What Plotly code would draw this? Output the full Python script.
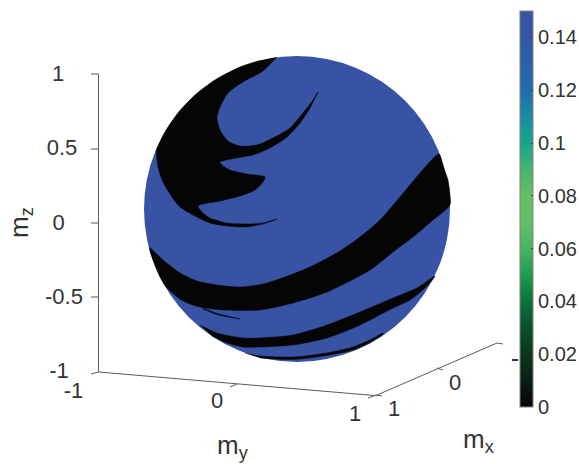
import plotly.graph_objects as go

# Projected picture coordinates of the box axes and the outlines on the sphere
sphere_box = [144, 56, 450, 362]

main_x = [277, 263, 243, 228, 220, 217, 220, 228, 240, 257, 273, 290, 303, 313, 318, 310, 300, 287, 270, 253,
          237, 220, 222, 230, 247, 265, 263, 255, 240, 220, 198, 202, 210, 227, 247, 263, 277, 263, 245, 227,
          210, 193, 180, 172, 163, 158, 156.5, 158, 165, 178, 195, 215, 240, 260]
main_y = [57, 71, 82, 93, 107, 118, 130, 141, 146, 145, 138, 128, 113, 100, 92, 108, 123, 137, 148, 155,
          158, 162, 165, 170, 174, 177, 182, 190, 196, 201, 206, 212, 218, 223, 224, 223, 219, 224, 227, 226,
          223, 215, 207, 197, 182, 167, 150, 146, 132, 113, 95, 80, 67, 60.5]

band1_x = [149.5, 163, 180, 197, 217, 240, 263, 285, 303, 320, 340, 360, 380, 400, 420, 439, 443, 448, 450, 450,
           433, 413, 393, 370, 327, 293, 260, 223, 200, 183, 167, 160, 153, 149.5]
band1_y = [247, 260, 273, 281, 285, 287, 284, 277, 270, 262, 251, 237, 220, 197, 173, 154, 166, 180, 195, 205,
           220, 237, 252, 270, 292, 303, 310, 310, 307, 301, 288, 277, 260, 250]

sliver_x = [203, 217, 240, 217, 203]
sliver_y = [308, 313.5, 319, 314.5, 309]

band2_x = [200, 217, 243, 260, 293, 327, 360, 393, 417, 435, 428, 410, 393, 360, 327, 293, 260, 243, 227, 212]
band2_y = [325, 333, 338, 338, 335, 325, 312, 298, 288, 276, 285, 300, 308, 325, 338, 345, 347, 347, 343, 336]

band3_x = [245, 260, 293, 327, 353, 370, 383, 383, 370, 353, 327, 293, 260]
band3_y = [353, 356, 357, 353, 347, 340, 333, 334, 342.5, 350, 355.5, 359.5, 358]

black_regions = [(main_x, main_y), (band1_x, band1_y), (sliver_x, sliver_y),
                 (band2_x, band2_y), (band3_x, band3_y)]

axis_lines = [
    ([98.5, 98.5], [74, 372]),      # m_z
    ([98.5, 374], [372, 395.5]),    # m_y
    ([377, 497], [395, 343]),       # m_x
]
tick_marks = [
    ([91, 98.5], [74, 74]), ([91, 98.5], [149, 149]), ([91, 98.5], [223, 223]),
    ([91, 98.5], [297, 297]), ([91, 98.5], [374, 372]),
    ([230, 237], [387, 384]), ([368, 377], [398, 395]),
    ([375, 382], [395, 396]), ([437, 443], [368, 370]), ([497, 503], [343, 344]),
]
clipped_label_x = [512, 518]
clipped_label_y = [360, 360]

tick_labels = ['1', '0.5', '0', '-0.5', '-1', '-1', '0', '1', '1', '0']
tick_label_x = [58, 62, 58.5, 64, 59, 73.5, 217, 355, 394, 455]
tick_label_y = [75, 149, 224, 298, 372, 392, 402, 415, 410, 384]

colorbar_ticks = [0, 0.02, 0.04, 0.06, 0.08, 0.1, 0.12, 0.14]
colorbar_labels = ['0', '0.02', '0.04', '0.06', '0.08', '0.1', '0.12', '0.14']
colorscale_stops = [0, 0.01, 0.02, 0.03, 0.04, 0.05, 0.06, 0.07, 0.08, 0.09, 0.1, 0.11, 0.12, 0.14, 0.15]
colorscale_colors = ['#050505', '#0a1e14', '#0a371e', '#0a502d', '#0a733c', '#1e9b50', '#46b464', '#64be69',
                     '#64be64', '#46b46e', '#14a58c', '#198ca5', '#1e6eaf', '#3257a5', '#3853a3']

BLUE = '#3853a3'
BLACK = '#050505'
AXIS_GREY = '#5a5a5a'
TEXT_GREY = '#333333'
FONT = 'Liberation Sans'
SUB = '<sub style="font-size:20px">%s</sub>'

fig = go.Figure()

fig.add_shape(type='circle', x0=sphere_box[0], y0=sphere_box[1], x1=sphere_box[2], y1=sphere_box[3],
              fillcolor=BLUE, line_width=0, layer='below')

for xs, ys in black_regions:
    fig.add_trace(go.Scatter(x=xs, y=ys, mode='lines', fill='toself', fillcolor=BLACK,
                             line=dict(color=BLACK, width=0.5, shape='spline', smoothing=0.7), hoverinfo='skip'))

for xs, ys in axis_lines + tick_marks:
    fig.add_trace(go.Scatter(x=xs, y=ys, mode='lines', line=dict(color=AXIS_GREY, width=1), hoverinfo='skip'))

fig.add_trace(go.Scatter(x=clipped_label_x, y=clipped_label_y, mode='lines',
                         line=dict(color=TEXT_GREY, width=2), hoverinfo='skip'))

fig.add_trace(go.Scatter(x=tick_label_x, y=tick_label_y, mode='text', text=tick_labels,
                         textposition='middle center', textfont=dict(family=FONT, size=22, color=TEXT_GREY),
                         hoverinfo='skip'))

# only here for the colorbar
fig.add_trace(go.Scatter(
    x=[None, None], y=[None, None], mode='markers',
    marker=dict(color=[0, 0.15], cmin=0, cmax=0.15, showscale=True,
                colorscale=[[s / 0.15, c] for s, c in zip(colorscale_stops, colorscale_colors)],
                colorbar=dict(x=519.5 / 579, xanchor='left', xpad=0, y=1 - 11 / 464, yanchor='top', ypad=0,
                              thicknessmode='pixels', thickness=12.5, lenmode='pixels', len=396,
                              outlinecolor='#8a8078', outlinewidth=1,
                              ticks='inside', ticklen=2, tickcolor=TEXT_GREY,
                              tickvals=colorbar_ticks, ticktext=colorbar_labels,
                              tickfont=dict(family=FONT, size=20, color=TEXT_GREY))),
    hoverinfo='skip'))

for text, x, y, angle in [('m' + SUB % 'y', 233, 446, 0), ('m' + SUB % 'x', 478, 440, 0), ('m' + SUB % 'z', 20, 223, -90)]:
    fig.add_annotation(x=x, y=y, text=text, textangle=angle, showarrow=False,
                       font=dict(family=FONT, size=26, color=TEXT_GREY))

fig.update_layout(width=579, height=464, autosize=False, showlegend=False,
                  margin=dict(l=0, r=0, t=0, b=0), paper_bgcolor='white', plot_bgcolor='white',
                  xaxis=dict(range=[0, 579], visible=False),
                  yaxis=dict(range=[464, 0], visible=False))

fig.write_html("out.html", config={'displayModeBar': False}, post_script="document.body.style.margin='0';")
